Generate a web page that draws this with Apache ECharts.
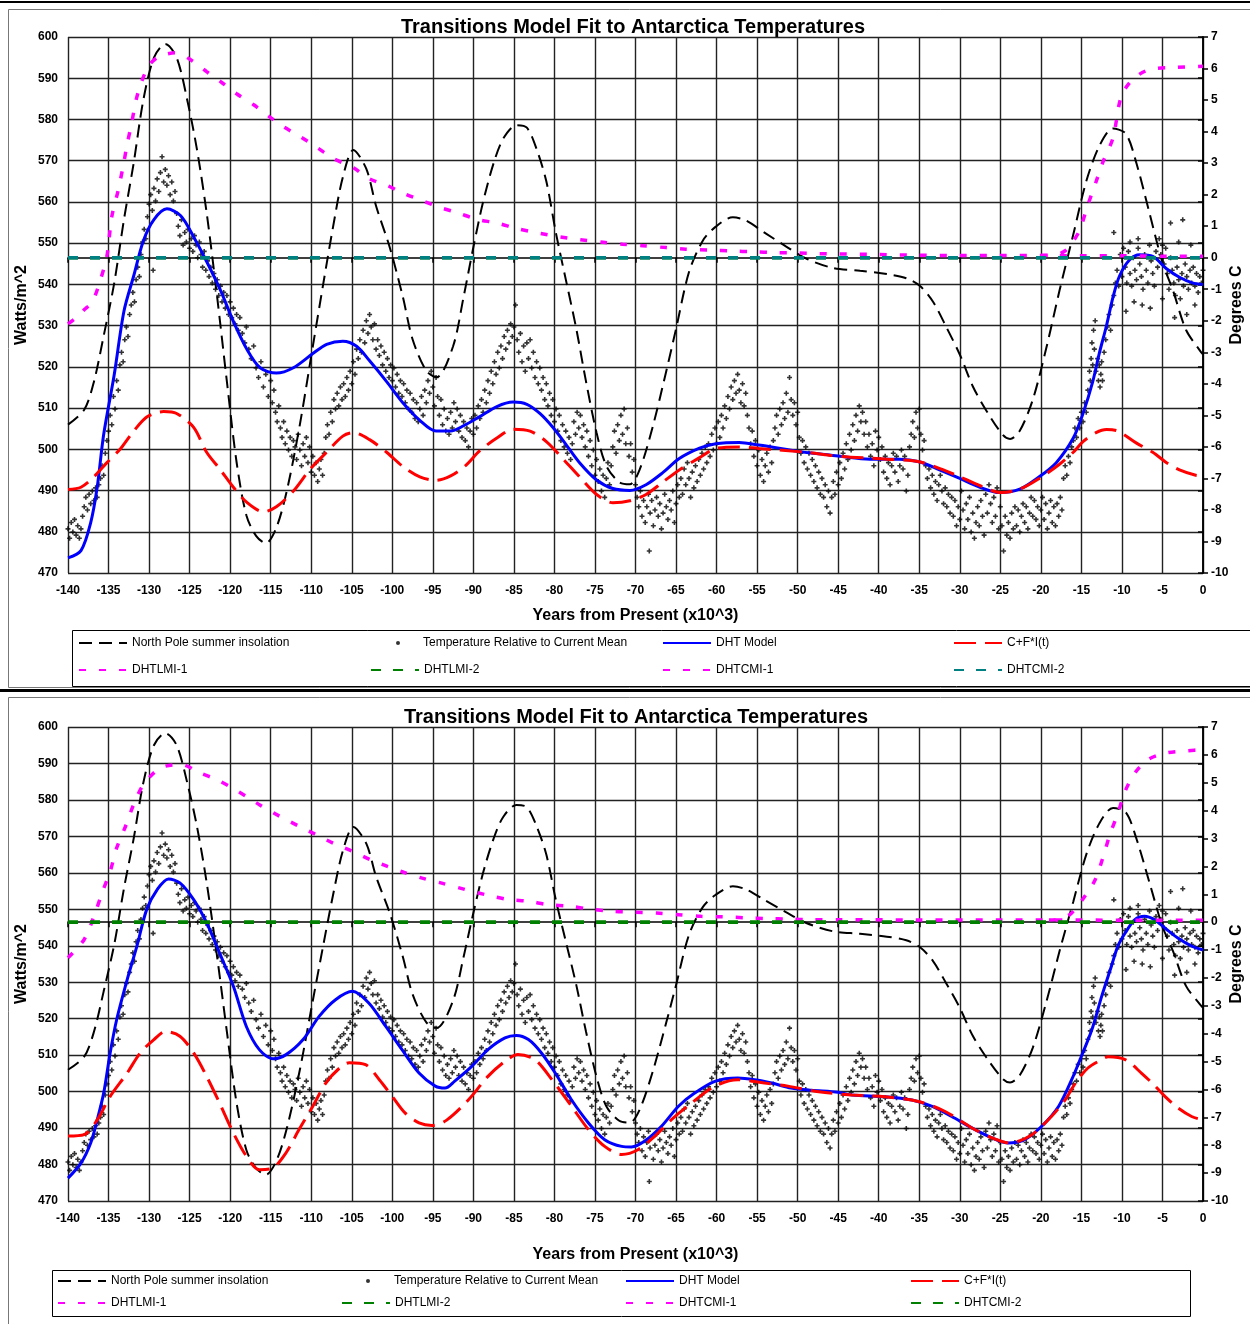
<!DOCTYPE html>
<html><head><meta charset="utf-8">
<script src="https://cdn.jsdelivr.net/npm/echarts@6/dist/echarts.min.js"></script>
<style>html,body{margin:0;padding:0;background:#fff}#c{width:1250px;height:1324px}</style>
</head><body><div id="c"></div>
<script>
// ---------- DATA ----------
const seriesNames = ['North Pole summer insolation','Temperature Relative to Current Mean','DHT Model','C+F*I(t)','DHTLMI-1','DHTLMI-2','DHTCMI-1','DHTCMI-2'];
const chartTitle = 'Transitions Model Fit to Antarctica Temperatures';
const xName = 'Years from Present (x10^3)';
const yLeftName = 'Watts/m^2';
const yRightName = 'Degrees C';

// North Pole summer insolation (W/m^2) [kyr, value]
const insolation = [[-140,506],[-138,509.6],[-136.8,516.4],[-135.6,527.5],[-134.3,540.3],[-133.1,555.7],[-131.9,569.4],[-130.7,584.8],[-129.4,595],[-128,598.3],[-126.6,595],[-125.3,584.8],[-124.1,572.8],[-122.9,557.4],[-121.6,536.9],[-120.4,516.4],[-119.2,496.8],[-118,484],[-116.8,479],[-115.6,477.2],[-114.3,481],[-113,490],[-111.4,506],[-109.8,525],[-108.5,540.3],[-107.3,554],[-106.1,566],[-104.8,572.6],[-103.2,568],[-102,559],[-100.3,548.9],[-98.7,537],[-97.5,526.7],[-95.8,519],[-94.5,517.5],[-92.5,525],[-91.2,537],[-90,549],[-88.8,560],[-87.5,569.4],[-86.3,575.4],[-84.7,578.6],[-83.4,578],[-82.2,572.8],[-81,565],[-79.8,552.3],[-78.5,540.3],[-77.3,529.2],[-76.1,516.4],[-74.8,504],[-73.6,496],[-72,492],[-70.7,491.5],[-69.5,495],[-67.9,505.3],[-66.2,519],[-65,529.2],[-63.4,543],[-61.7,550.6],[-60.1,554],[-58,556.3],[-56.4,555.5],[-53.9,552.3],[-51.5,549.3],[-49,546.3],[-45.7,544],[-42.3,543.3],[-39,542.5],[-36.6,541.5],[-34.9,539.6],[-33.3,535.8],[-31.7,529.8],[-30,523],[-28.4,515.3],[-26.7,509.3],[-24.7,503.5],[-23.8,502.5],[-22.6,504.5],[-21,512],[-19.3,524.8],[-17.7,538.5],[-16,552.1],[-14.4,565],[-12.8,573.5],[-11.1,577.8],[-9.5,576.5],[-8.2,569.3],[-6.6,557.3],[-5,545.3],[-3.7,538.5],[-2.1,529],[-0.4,524],[0,523]];

// Temperature relative to current mean (deg C) [kyr, value]
const tempPoints = [
[-140,-8.6],[-139.8,-8.9],[-139.6,-8.4],[-139.4,-8.7],[-139.2,-8.3],[-139,-8.8],[-138.8,-8.5],[-138.6,-8.9],[-138.4,-8.6],[-138.2,-8.2],
[-138,-7.9],[-137.8,-7.6],[-137.6,-8.0],[-137.4,-7.5],[-137.2,-7.8],[-137,-7.4],[-136.8,-7.7],[-136.6,-7.3],[-136.4,-7.6],[-136.2,-7.2],
[-136,-7.0],[-135.8,-6.6],[-135.6,-6.9],[-135.4,-6.2],[-135.2,-5.8],[-135,-5.5],[-134.8,-5.0],[-134.6,-5.3],[-134.4,-4.4],[-134.2,-4.8],[-134,-3.9],[-133.8,-4.2],[-133.6,-3.4],[-133.4,-3.0],[-133.2,-3.3],[-133,-2.6],[-132.8,-2.2],[-132.6,-2.5],[-132.4,-1.8],[-132.2,-1.5],[-132,-1.1],[-131.8,-1.4],[-131.6,-0.7],[-131.4,-0.3],[-131.2,-0.6],[-131,0.1],[-130.8,0.5],[-130.6,0.9],[-130.4,0.6],[-130.2,1.3],
[-130,1.7],[-129.8,2.0],[-129.6,1.5],[-129.4,2.2],[-129.2,1.8],[-129,2.5],[-128.8,2.1],[-128.6,2.7],[-128.4,3.2],[-128.2,2.4],[-128,2.8],[-127.8,2.3],[-127.6,2.6],[-127.4,2.0],[-127.2,2.4],[-127,1.8],[-126.8,2.1],[-126.6,1.4],[-129.5,-0.4],
[-126.4,1.0],[-126.2,0.7],[-126,1.2],[-125.8,0.4],[-125.6,0.8],[-125.4,0.5],[-125.2,0.9],[-125,0.3],[-124.8,0.6],[-124.6,0.2],[-124.4,0.7],[-124.2,0.4],[-124,0.0],[-123.8,0.5],[-123.6,0.1],[-123.4,-0.3],[-123.2,0.2],[-123,-0.4],
[-122.8,-0.1],[-122.6,-0.6],[-122.4,-0.3],[-122.2,-0.8],[-122,-0.5],[-121.8,-1.0],[-121.6,-0.7],[-121.4,-1.2],[-121.2,-0.9],[-121,-1.4],[-120.8,-1.1],[-120.6,-1.6],[-120.4,-1.2],[-120.2,-1.8],[-120,-1.4],[-119.8,-1.9],[-119.6,-1.6],[-119.4,-2.1],[-119.2,-1.8],[-119,-2.3],[-118.8,-1.9],
[-118.5,-2.4],[-118.2,-2.7],[-118,-2.2],[-117.7,-2.9],[-117.4,-3.2],[-117.1,-2.8],[-116.8,-3.5],[-116.5,-3.8],[-116.2,-3.3],[-115.9,-4.1],[-115.6,-3.7],[-115.3,-4.4],[-115,-3.9],
[-114.8,-4.6],[-114.6,-4.2],[-114.4,-4.9],[-114.2,-5.2],[-114,-4.7],[-113.8,-5.4],[-113.6,-5.7],[-113.4,-5.2],[-113.2,-5.9],[-113,-5.5],[-112.8,-6.1],[-112.6,-5.7],[-112.4,-6.3],[-112.2,-5.8],[-112,-6.0],
[-111.8,-6.4],[-111.6,-5.6],[-111.4,-6.1],[-111.2,-6.6],[-111,-5.9],[-110.8,-6.3],[-110.6,-5.7],[-110.4,-6.5],[-110.2,-6.0],[-110,-6.8],[-109.8,-6.3],[-109.6,-6.9],[-109.4,-6.5],[-109.2,-7.1],[-109,-6.7],[-108.8,-6.4],[-108.6,-6.9],[-108.4,-6.2],
[-108.2,-5.7],[-108,-5.3],[-107.8,-5.6],[-107.6,-4.9],[-107.4,-5.2],[-107.2,-4.5],[-107,-4.8],[-106.8,-4.3],[-106.6,-4.7],[-106.4,-4.1],[-106.2,-4.5],[-106,-4.0],[-105.8,-4.4],[-105.6,-3.8],[-105.4,-4.2],[-105.2,-3.6],[-105,-4.0],
[-104.8,-3.3],[-104.6,-3.7],[-104.4,-2.9],[-104.2,-3.2],[-104,-2.6],[-103.8,-3.0],[-103.6,-2.3],[-103.4,-2.7],[-103.2,-2.0],[-103,-2.4],[-102.8,-1.8],[-102.6,-2.2],[-102.4,-2.6],[-102.2,-2.1],[-102,-2.9],
[-101.8,-2.6],[-101.6,-3.1],[-101.4,-2.8],[-101.2,-3.4],[-101,-3.0],[-100.8,-3.6],[-100.6,-3.2],[-100.4,-3.8],[-100.2,-3.4],[-100,-3.9],[-99.8,-3.5],[-99.6,-4.1],[-99.4,-3.7],[-99.2,-4.3],[-99,-3.9],[-98.8,-4.4],[-98.6,-4.0],[-98.4,-4.6],[-98.2,-4.2],[-98,-4.8],[-97.8,-4.3],[-97.6,-4.9],[-97.4,-4.5],[-97.2,-5.1],[-97,-4.6],
[-96.8,-5.2],[-96.6,-4.8],[-96.4,-4.4],[-96.2,-5.0],[-96,-4.2],[-95.8,-4.6],[-95.6,-3.9],[-95.4,-4.3],[-95.2,-3.6],[-95,-4.1],[-94.8,-4.7],[-94.6,-3.8],[-94.4,-4.4],[-94.2,-5.0],[-94,-4.5],[-93.8,-5.3],[-93.6,-4.8],[-93.4,-5.5],[-93.2,-5.1],[-93,-5.6],
[-92.8,-4.9],[-92.6,-5.4],[-92.4,-4.6],[-92.2,-5.2],[-92,-4.8],[-91.8,-5.5],[-91.6,-5.0],[-91.4,-5.7],[-91.2,-5.2],[-91,-5.8],[-90.8,-5.4],[-90.6,-6.0],[-90.4,-5.5],[-90.2,-5.1],[-90,-5.6],[-89.8,-5.0],[-89.6,-5.4],[-89.4,-4.7],[-89.2,-5.1],[-89,-4.5],
[-88.8,-4.9],[-88.6,-4.2],[-88.4,-4.6],[-88.2,-3.9],[-88,-4.3],[-87.8,-3.6],[-87.6,-4.0],[-87.4,-3.3],[-87.2,-3.7],[-87,-3.0],[-86.8,-3.5],[-86.6,-2.8],[-86.4,-3.2],[-86.2,-2.5],[-86,-2.9],[-85.8,-2.3],[-85.6,-2.7],[-85.4,-2.1],[-85.2,-2.5],[-85,-2.2],[-84.8,-1.5],
[-84.6,-2.6],[-84.4,-3.0],[-84.2,-2.4],[-84,-3.3],[-83.8,-2.8],[-83.6,-3.6],[-83.4,-2.7],[-83.2,-3.2],[-83,-2.6],[-82.8,-3.5],[-82.6,-3.0],[-82.4,-3.8],[-82.2,-3.3],[-82,-4.0],[-81.8,-3.5],[-81.6,-4.2],[-81.4,-3.8],[-81.2,-4.5],[-81,-4.0],[-80.8,-4.7],[-80.6,-4.3],[-80.4,-5.0],[-80.2,-4.5],[-80,-5.2],
[-79.8,-4.8],[-79.6,-5.5],[-79.4,-5.0],[-79.2,-5.8],[-79,-5.3],[-78.8,-6.0],[-78.6,-5.5],[-78.4,-6.2],[-78.2,-5.7],[-78,-6.4],[-77.8,-5.9],[-77.6,-5.2],[-77.4,-5.6],[-77.2,-4.9],[-77,-5.4],
[-76.8,-5.0],[-76.6,-5.7],[-76.4,-5.3],[-76.2,-6.0],[-76,-5.5],[-75.8,-6.3],[-75.6,-5.8],[-75.4,-6.6],[-75.2,-6.1],[-75,-6.9],
[-74.8,-6.4],[-74.6,-7.1],[-74.4,-6.7],[-74.2,-7.4],[-74,-6.9],[-73.8,-7.6],[-73.6,-7.0],[-73.4,-6.5],[-73.2,-7.2],[-73,-6.6],
[-72.8,-6.0],[-72.6,-5.5],[-72.4,-6.2],[-72.2,-5.3],[-72,-5.8],[-71.8,-5.0],[-71.6,-5.6],[-71.4,-4.8],[-71.2,-5.9],[-71,-5.4],[-70.8,-6.3],[-70.6,-5.9],[-70.4,-6.8],[-70.2,-6.4],
[-70,-7.2],[-69.8,-7.6],[-69.6,-7.9],[-69.4,-7.4],[-69.2,-8.2],[-69,-7.7],[-68.8,-8.4],[-68.6,-7.9],[-68.4,-7.5],[-68.2,-8.1],[-68,-7.7],[-67.8,-8.5],[-67.6,-8.0],[-67.4,-7.6],[-67.2,-8.2],[-67,-7.8],[-66.8,-8.6],[-66.6,-8.1],[-66.4,-7.5],[-66.2,-7.9],[-66,-8.3],[-65.8,-7.7],[-65.6,-8.0],[-65.4,-7.4],[-65.2,-8.4],[-65,-7.8],[-64.8,-7.2],[-64.6,-7.6],[-68.3,-9.3],
[-64.4,-7.0],[-64.2,-7.5],[-64,-6.7],[-63.8,-7.2],[-63.6,-6.5],[-63.4,-7.0],[-63.2,-7.6],[-63,-6.8],[-62.8,-7.3],[-62.6,-6.6],[-62.4,-7.1],[-62.2,-6.4],[-62,-6.9],[-61.8,-6.2],[-61.6,-6.7],[-61.4,-6.0],
[-61.2,-6.5],[-61,-5.9],[-60.8,-6.3],[-60.6,-5.6],[-60.4,-6.1],[-60.2,-5.4],[-60,-5.9],[-59.8,-5.2],[-59.6,-5.7],[-59.4,-5.0],
[-59.2,-5.4],[-59,-4.7],[-58.8,-5.1],[-58.6,-4.4],[-58.4,-4.8],[-58.2,-4.1],[-58,-4.5],[-57.8,-3.9],[-57.6,-4.3],[-57.4,-3.7],[-57.2,-4.2],[-57,-4.6],[-56.8,-4.0],[-56.6,-4.7],[-56.4,-4.3],[-56.2,-5.0],
[-56,-5.4],[-55.8,-5.9],[-55.6,-5.5],[-55.4,-6.3],[-55.2,-5.8],[-55,-6.6],[-54.8,-6.1],[-54.6,-6.9],[-54.4,-6.4],[-54.2,-7.1],[-54,-6.6],[-53.8,-6.2],[-53.6,-6.8],[-53.4,-6.0],[-53.2,-6.5],[-53,-5.8],
[-52.8,-5.4],[-52.6,-5.0],[-52.4,-5.6],[-52.2,-4.8],[-52,-5.3],[-51.8,-4.6],[-51.6,-5.1],[-51.4,-4.3],[-51.2,-4.9],[-51,-3.8],[-50.8,-4.5],[-50.6,-5.0],[-50.4,-4.6],[-50.2,-5.3],[-50,-4.9],
[-49.8,-5.7],[-49.6,-6.2],[-49.4,-5.8],[-49.2,-6.5],[-49,-6.0],[-48.8,-6.7],[-48.6,-6.2],[-48.4,-6.9],[-48.2,-6.4],[-48,-7.1],[-47.8,-6.6],[-47.6,-7.3],[-47.4,-6.8],[-47.2,-7.5],[-47,-7.0],
[-46.8,-7.6],[-46.6,-7.2],[-46.4,-7.9],[-46.2,-7.4],[-46,-8.1],[-45.8,-7.6],[-45.6,-7.1],[-45.4,-7.5],[-45.2,-6.8],[-45,-7.2],
[-44.8,-6.5],[-44.6,-7.0],[-44.4,-6.2],[-44.2,-6.7],[-44,-5.9],[-43.8,-6.4],[-43.6,-5.6],[-43.4,-6.1],[-43.2,-5.3],[-43,-5.8],[-42.8,-5.0],[-42.6,-5.5],[-42.4,-4.7],[-42.2,-5.2],[-42,-4.9],[-41.8,-5.6],[-41.6,-5.2],[-41.4,-6.0],[-41.2,-5.6],[-41,-6.3],
[-40.8,-5.9],[-40.6,-6.6],[-40.4,-5.5],[-40.2,-6.1],[-40,-5.7],[-39.8,-6.4],[-39.6,-6.0],[-39.4,-6.8],[-39.2,-6.3],[-39,-7.0],[-38.8,-6.5],[-38.6,-7.2],[-38.4,-6.6],[-38.2,-6.2],[-38,-6.8],[-37.8,-6.3],[-37.6,-7.1],[-37.4,-6.6],[-37.2,-6.1],[-37,-6.7],[-36.8,-6.3],[-36.6,-7.4],[-36.4,-6.9],
[-36.2,-6.0],[-36,-5.6],[-35.8,-5.2],[-35.6,-5.7],[-35.4,-4.9],[-35.2,-5.4],[-35,-4.8],[-34.8,-5.6],[-34.6,-6.1],[-34.4,-5.8],
[-34.2,-6.6],[-34,-7.0],[-33.8,-6.7],[-33.6,-7.3],[-33.4,-6.9],[-33.2,-7.5],[-33,-7.1],[-32.8,-7.7],[-32.6,-7.2],[-32.4,-6.9],[-32.2,-7.4],[-32,-7.8],[-31.8,-7.3],[-31.6,-7.9],[-31.4,-7.5],[-31.2,-8.1],[-31,-7.6],
[-30.8,-8.2],[-30.6,-7.7],[-30.4,-8.5],[-30.2,-7.9],[-30,-8.3],[-29.8,-7.4],[-29.6,-8.0],[-29.4,-8.6],[-29.2,-7.8],[-29,-8.3],[-28.8,-7.6],[-28.6,-8.7],[-28.4,-8.1],[-28.2,-8.9],[-28,-8.4],[-27.8,-7.9],[-27.6,-8.5],[-27.4,-7.7],[-27.2,-8.2],[-27,-8.8],
[-26.8,-7.5],[-26.6,-8.1],[-26.4,-7.2],[-26.2,-7.8],[-26,-8.4],[-25.8,-7.6],[-25.6,-8.2],[-25.4,-7.3],[-25.2,-8.6],[-25,-7.9],[-24.8,-8.5],[-24.6,-9.3],[-24.4,-8.2],[-24.2,-8.8],
[-24,-8.4],[-23.8,-8.9],[-23.6,-8.1],[-23.4,-8.6],[-23.2,-7.9],[-23,-8.5],[-22.8,-8.0],[-22.6,-8.7],[-22.4,-8.2],[-22.2,-7.8],[-22,-8.4],[-21.8,-7.9],[-21.6,-8.6],[-21.4,-8.1],[-21.2,-7.6],[-21,-8.2],[-20.8,-7.7],[-20.6,-8.3],[-20.4,-7.9],[-20.2,-8.5],
[-20,-8.0],[-19.8,-7.6],[-19.6,-8.3],[-19.4,-7.8],[-19.2,-8.6],[-19,-8.1],[-18.8,-7.7],[-18.6,-8.4],[-18.4,-7.9],[-18.2,-8.5],[-18,-7.8],[-17.8,-8.2],[-17.6,-7.6],[-17.4,-8.0],
[-17.2,-7.0],[-17,-6.6],[-16.8,-6.9],[-16.6,-6.3],[-16.4,-6.5],[-16.2,-6.0],
[-16,-5.8],[-15.8,-5.4],[-15.6,-5.7],[-15.4,-5.1],[-15.2,-5.4],[-15,-4.9],[-14.8,-5.2],[-14.6,-4.6],[-14.4,-4.9],
[-14.2,-4.2],[-14,-3.6],[-13.9,-3.9],[-13.8,-3.2],[-13.7,-2.7],[-13.6,-3.4],[-13.5,-2.3],[-13.4,-2.9],[-13.3,-2.0],
[-13.2,-3.6],[-13,-3.2],[-12.9,-3.9],[-12.8,-3.4],[-12.7,-4.1],[-12.6,-3.7],[-12.5,-3.3],[-12.4,-3.9],
[-12.2,-3.0],[-12,-2.6],[-11.8,-2.2],[-11.6,-1.8],[-11.4,-2.3],[-11.2,-1.5],[-11,-1.2],
[-10.8,-0.8],[-10.6,-0.4],[-10.4,-0.9],[-10.2,0.1],[-10,-0.6],[-9.8,0.3],[-9.6,-0.3],[-9.4,-0.8],[-9.2,0.2],[-9,-0.5],[-8.8,-0.9],[-8.6,0.0],[-8.4,-0.4],[-8.2,-0.7],[-8,0.3],[-7.8,-0.2],[-7.6,-0.6],[-7.4,-1.0],[-7.2,0.1],[-7,-0.4],[-6.8,-0.8],[-6.6,0.4],[-6.4,-0.1],[-6.2,-0.5],[-6,-0.9],[-5.8,0.2],[-5.6,-0.3],[-5.4,0.6],[-5.2,0.1],[-5,0.4],[-4.8,-0.2],[-4.6,0.3],[-4.4,-0.5],[-4.2,-1.0],[-4,0.0],[-3.8,-0.4],[-3.6,-0.8],[-3.4,-1.2],[-3.2,-0.3],[-3,-0.7],[-2.8,-1.3],[-2.6,-0.5],[-2.4,-0.9],[-2.2,-0.2],[-2,-0.6],[-1.8,-1.0],[-1.6,-0.4],[-1.4,-0.8],[-1.2,-0.3],[-1,-0.9],[-0.8,-0.5],[-0.6,-1.1],[-0.4,-0.6],[-0.2,-0.8],[0,-0.4],
[-9.5,-1.7],[-8.5,-1.4],[-7.5,-1.5],[-6.5,-1.6],[-4,1.1],[-2.5,1.2],[-3,0.5],[-1.5,0.4],[-11,0.8],[-9,0.5],[-8,0.6],[-5,-1.3],[-3.5,-1.9],[-2,-1.8],[-1,-1.5]
];

// ---- Top panel model curves (deg C) ----
const dhtTop = [[-140,-9.52],[-138.4,-9.29],[-137.2,-8.4],[-136.4,-7.28],[-135.6,-5.61],[-134.3,-3.71],[-133.1,-1.7],[-131.9,-0.58],[-130.7,0.54],[-129.4,1.21],[-127.8,1.55],[-126.1,1.33],[-124.5,0.66],[-122.9,-0.12],[-121.2,-1.03],[-119.6,-2.02],[-117.9,-2.92],[-116.3,-3.49],[-114.3,-3.66],[-112.2,-3.49],[-109.8,-3.04],[-108.1,-2.75],[-106.1,-2.65],[-104.4,-2.81],[-102.8,-3.27],[-100.7,-3.93],[-98.7,-4.6],[-96.6,-5.16],[-94.6,-5.5],[-92.8,-5.5],[-91.2,-5.33],[-89.2,-5.04],[-87.1,-4.72],[-85.1,-4.58],[-83.4,-4.65],[-81.8,-4.94],[-80.2,-5.38],[-78.5,-5.95],[-76.9,-6.5],[-74.8,-7.05],[-72.8,-7.32],[-70.7,-7.38],[-68.7,-7.2],[-66.6,-6.81],[-64.6,-6.37],[-62.1,-6.04],[-60.1,-5.9],[-57.2,-5.86],[-54.8,-5.94],[-52.3,-6.04],[-49.8,-6.15],[-47,-6.23],[-44.8,-6.3],[-41.1,-6.39],[-37.4,-6.39],[-34.9,-6.48],[-32.5,-6.73],[-30,-7.0],[-27.5,-7.28],[-25.1,-7.45],[-22.6,-7.34],[-20.2,-6.95],[-18.1,-6.5],[-16,-5.72],[-14.8,-4.94],[-13.6,-3.93],[-12.8,-3.04],[-11.9,-2.15],[-11.1,-1.25],[-10.3,-0.58],[-9.1,-0.08],[-7.8,0.09],[-6.2,0.04],[-4.5,-0.35],[-2.9,-0.62],[-1.3,-0.8],[0,-0.85]];
const cfiTop = [[-140,-7.35],[-138.4,-7.28],[-136.8,-6.95],[-135.2,-6.5],[-133.5,-6.05],[-131.9,-5.5],[-130.2,-5.04],[-128.2,-4.88],[-126.6,-4.94],[-124.5,-5.38],[-122.9,-6.17],[-121.2,-6.73],[-119.6,-7.28],[-117.9,-7.77],[-115.9,-8.06],[-114.3,-7.9],[-112.2,-7.4],[-110.2,-6.73],[-108.1,-6.17],[-106.1,-5.66],[-104.8,-5.55],[-102.8,-5.77],[-100.7,-6.17],[-98.7,-6.62],[-96.6,-6.95],[-94.6,-7.06],[-92.8,-6.92],[-91,-6.6],[-89.2,-6.12],[-87.1,-5.72],[-85.1,-5.44],[-83,-5.5],[-81,-5.83],[-78.9,-6.39],[-76.9,-6.95],[-74.8,-7.51],[-72.8,-7.77],[-70.7,-7.71],[-68.7,-7.51],[-66.6,-7.11],[-64.6,-6.73],[-62.1,-6.34],[-60.1,-6.05],[-57.2,-6.0],[-54.8,-6.05],[-49,-6.17],[-44.8,-6.3],[-39,-6.39],[-34.9,-6.48],[-30.8,-6.86],[-27.5,-7.23],[-24.9,-7.45],[-22.6,-7.34],[-20.2,-7.0],[-17.7,-6.55],[-16,-6.17],[-14.8,-5.83],[-13.2,-5.55],[-11.9,-5.45],[-10.5,-5.5],[-8.2,-5.88],[-6.2,-6.17],[-4.5,-6.5],[-2.9,-6.73],[-0.9,-6.9],[0,-6.92]];
const lmi1Top = [[-140,-2.1],[-139,-1.9],[-138,-1.65],[-137,-1.4],[-136,-0.7],[-135.2,0.05],[-134.6,1.3],[-133.8,2.15],[-133.2,2.9],[-132.7,3.6],[-132.2,4.2],[-131.6,5.0],[-130.9,5.6],[-130,6.1],[-129,6.35],[-128,6.45],[-126.8,6.5],[-124.7,6.25],[-122.9,5.9],[-121,5.55],[-119.2,5.2],[-117.1,4.85],[-115.3,4.5],[-113.4,4.15],[-111.4,3.85],[-109.3,3.5],[-107.3,3.15],[-104.8,2.85],[-102.8,2.5],[-100.7,2.3],[-98.7,2.05],[-96.2,1.8],[-94.2,1.6],[-92,1.43],[-89.6,1.22],[-87.1,1.1],[-84.7,0.93],[-81.8,0.77],[-79.3,0.66],[-76.9,0.57],[-74,0.49],[-71.6,0.43],[-69.1,0.38],[-66.2,0.32],[-63.8,0.27],[-60.9,0.24],[-58,0.21],[-55.6,0.19],[-52.7,0.16],[-50,0.15],[-47.5,0.13],[-45,0.12],[-40,0.1],[-35,0.08],[-30,0.07],[-25,0.07],[-20,0.07],[-15,0.06],[-10,0.06],[-5,0.05],[0,0.05]];
const cmi1Top = [[-20,0.07],[-18,0.1],[-17,0.22],[-16.2,0.45],[-15.2,0.88],[-14.3,1.6],[-13.2,2.4],[-12.4,3.0],[-11.1,3.8],[-10.1,5.1],[-8.7,5.65],[-6.6,5.97],[-3.7,6.03],[0,6.07]];

// ---- Bottom panel model curves (deg C) ----
const dhtBot = [[-140,-9.18],[-138.4,-8.64],[-137.2,-7.92],[-136.4,-7.09],[-135.6,-6.13],[-134.8,-4.69],[-134,-3.5],[-132.7,-2.06],[-131.5,-0.86],[-130.3,0.45],[-129,1.17],[-127.6,1.55],[-126.2,1.41],[-124.5,0.81],[-122.9,-0.02],[-121.3,-1.11],[-119.6,-2.3],[-118,-3.74],[-116.4,-4.57],[-114.7,-4.9],[-113.1,-4.75],[-111,-4.21],[-109,-3.37],[-107,-2.78],[-104.9,-2.48],[-102.9,-2.9],[-100.8,-3.74],[-98.8,-4.57],[-96.7,-5.41],[-94.7,-5.88],[-93.5,-5.95],[-92.3,-5.7],[-90.2,-5.17],[-88.2,-4.57],[-86.1,-4.15],[-84.7,-4.06],[-83.2,-4.21],[-81.6,-4.69],[-79.9,-5.41],[-77.9,-6.37],[-75.8,-7.2],[-73.8,-7.8],[-71.7,-8.04],[-70.5,-8.06],[-68.9,-7.86],[-66.8,-7.32],[-64.7,-6.6],[-62.7,-6.13],[-60.2,-5.71],[-57.4,-5.59],[-55.3,-5.65],[-53.2,-5.77],[-50.8,-5.95],[-48.3,-6.03],[-45,-6.1],[-43.3,-6.2],[-39.2,-6.26],[-35.9,-6.38],[-33.4,-6.61],[-31,-6.97],[-28.5,-7.38],[-26,-7.74],[-24,-7.92],[-22,-7.8],[-19.9,-7.32],[-17.8,-6.6],[-16.2,-5.65],[-15,-4.81],[-13.7,-3.85],[-12.5,-2.66],[-11.3,-1.58],[-10.5,-0.86],[-9.6,-0.39],[-8.4,0.09],[-7.2,0.21],[-6,0.09],[-4.7,-0.21],[-3.1,-0.57],[-1.4,-0.86],[0,-1.0]];
const cfiBot = [[-140,-7.67],[-138,-7.62],[-136.4,-7.09],[-134.8,-6.25],[-132.7,-5.41],[-131.1,-4.69],[-129.4,-4.21],[-128,-3.92],[-126.2,-4.09],[-124.5,-4.69],[-122.9,-5.53],[-121.3,-6.49],[-119.6,-7.56],[-118,-8.39],[-116.4,-8.88],[-114.7,-8.81],[-113.1,-8.27],[-111.5,-7.44],[-109.8,-6.6],[-108.2,-5.77],[-106.5,-5.23],[-105.3,-5.04],[-103.3,-5.11],[-101.6,-5.65],[-100,-6.25],[-98.4,-6.85],[-96.7,-7.2],[-95.1,-7.29],[-93.3,-7.1],[-90.6,-6.37],[-88.2,-5.53],[-86.1,-4.99],[-84.5,-4.75],[-82.4,-4.93],[-80.3,-5.65],[-77.9,-6.6],[-75.8,-7.44],[-73.8,-8.04],[-71.7,-8.33],[-69.7,-8.16],[-67.6,-7.67],[-65.6,-7.09],[-63.1,-6.49],[-60.2,-5.88],[-57.4,-5.65],[-54.1,-5.77],[-51.2,-5.88],[-47.4,-6.08],[-43.3,-6.2],[-39.2,-6.26],[-35.1,-6.43],[-31.8,-6.79],[-28.5,-7.38],[-26,-7.74],[-23.8,-7.92],[-21.1,-7.62],[-18.7,-6.97],[-17,-6.37],[-15.6,-5.71],[-14.2,-5.23],[-12.9,-4.99],[-11.7,-4.83],[-9.6,-4.93],[-7.6,-5.41],[-5.9,-5.88],[-4.7,-6.25],[-3.1,-6.66],[-1.4,-6.97],[0,-7.09]];
const lmi1Bot = [[-140,-1.28],[-138,-0.62],[-136.8,0.21],[-135.8,1.05],[-134.8,1.82],[-134,2.66],[-132.9,3.44],[-131.9,4.22],[-130.7,4.93],[-128.6,5.53],[-126,5.65],[-123.7,5.35],[-121.7,5.12],[-119.8,4.82],[-118,4.51],[-116.2,4.18],[-113.9,3.8],[-111.5,3.44],[-109.4,3.14],[-107.2,2.82],[-104.9,2.54],[-102.7,2.24],[-100.6,2.0],[-98.6,1.79],[-96.3,1.58],[-93.9,1.4],[-91,1.17],[-88.4,0.98],[-85.7,0.81],[-83.2,0.75],[-80.8,0.63],[-78.1,0.57],[-75.6,0.47],[-73,0.39],[-70.1,0.36],[-67.4,0.33],[-64.7,0.27],[-61.9,0.21],[-59.2,0.19],[-56.5,0.16],[-53.7,0.13],[-51.2,0.11],[-48.3,0.09],[-45,0.09],[-35,0.08],[-25,0.08],[-18,0.08],[-10,0.07],[0,0.07]];
const cmi1Bot = [[-19,0.08],[-17.5,0.12],[-16.2,0.33],[-14.6,0.92],[-13.3,1.52],[-12.3,2.36],[-11.5,3.13],[-10.5,3.91],[-9.6,4.7],[-8.4,5.35],[-6.8,5.83],[-4.5,6.07],[-1.9,6.15],[0,6.19]];
const lmi2Line = [[-140,0],[0,0]];
const cmi2Line = [[-140,0],[0,0]];

// ---------- CHART ----------
const FONT = '"Liberation Sans", Arial, sans-serif';
const plus = 'path://M1.7,0H3.3V1.7H5V3.3H3.3V5H1.7V3.3H0V1.7H1.7Z';
const grids = [
  {left:68, top:37, width:1135, height:536, outerBoundsMode:'none', containLabel:false},
  {left:68, top:727, width:1135, height:474, outerBoundsMode:'none', containLabel:false}
];
const axLine = {show:true, lineStyle:{color:'#000', width:1.5}};
const axTick = {show:true, length:5, lineStyle:{color:'#000', width:1.5}};
const lblStyle = {color:'#000', fontFamily:FONT, fontWeight:'bold', fontSize:12};
const nameStyle = {color:'#000', fontFamily:FONT, fontWeight:'bold', fontSize:16};

const xAxes = [0,1].map(i => ({
  type:'value', gridIndex:i, min:-140, max:0, interval:5,
  axisLine:axLine, axisTick:axTick, axisLabel:Object.assign({margin:12}, lblStyle),
  splitLine:{show:true, lineStyle:{color:'#222', width:1.4}},
  name:xName, nameLocation:'middle', nameGap: i===0 ? 35 : 46, nameTextStyle:nameStyle
}));
const yAxes = [];
[0,1].forEach(i => {
  yAxes.push({type:'value', gridIndex:i, position:'left', min:470, max:600, interval:10,
    axisLine:axLine, axisTick:axTick, axisLabel:Object.assign({margin:10}, lblStyle),
    splitLine:{show:true, lineStyle:{color:'#222', width:1.4}},
    name:yLeftName, nameLocation:'middle', nameGap:38, nameRotate:90, nameMoveOverlap:false, nameTextStyle:nameStyle});
  yAxes.push({type:'value', gridIndex:i, position:'right', min:-10, max:7, interval:1,
    axisLine:axLine, axisTick:axTick, axisLabel:Object.assign({margin:8}, lblStyle),
    splitLine:{show:false},
    name:yRightName, nameLocation:'middle', nameGap:26, nameRotate:90, nameMoveOverlap:false, nameTextStyle:nameStyle});
});

function lineS(name, xi, yi, data, color, width, type, smooth) {
  return {name, type:'line', xAxisIndex:xi, yAxisIndex:yi, data, symbol:'none', showSymbol:false,
    smooth: smooth === undefined ? 0.3 : smooth, animation:false,
    lineStyle:{color, width, type}, itemStyle:{color}};
}
function panel(i, sfx, d) {
  const yl = 2*i, yr = 2*i+1;
  return [
    lineS(seriesNames[0]+sfx, i, yl, insolation, '#000', 2, [13,7]),
    {name:seriesNames[1]+sfx, type:'scatter', xAxisIndex:i, yAxisIndex:yr, data:tempPoints,
      symbol:plus, symbolSize:5, itemStyle:{color:'#000'}, animation:false},
    lineS(seriesNames[2]+sfx, i, yr, d.dht, '#0000ff', 3, 'solid'),
    lineS(seriesNames[3]+sfx, i, yr, d.cfi, '#ff0000', 3, [22,9]),
    lineS(seriesNames[4]+sfx, i, yr, d.lmi1, '#ff00ff', 3.5, [7,13]),
    lineS(seriesNames[5]+sfx, i, yr, lmi2Line, '#008000', 3.5, [10,12], false),
    lineS(seriesNames[6]+sfx, i, yr, d.cmi1, '#ff00ff', 3.5, [7,13]),
    lineS(seriesNames[7]+sfx, i, yr, cmi2Line, d.cmi2Color, 3.5, [10,12], false)
  ];
}
const series = panel(0, '', {dht:dhtTop, cfi:cfiTop, lmi1:lmi1Top, cmi1:cmi1Top, cmi2Color:'#008080'})
  .concat(panel(1, '\u200b', {dht:dhtBot, cfi:cfiBot, lmi1:lmi1Bot, cmi1:cmi1Bot, cmi2Color:'#008000'}));

// legends: one component per item, placed like the original
function legendItems(sfx, lefts, dotPad, rows) {
  return seriesNames.map((nm, k) => {
    const r = Math.floor(k/4), c = k%4;
    const isDot = k === 1;
    const item = {name:nm+sfx};
    if (isDot) item.icon = 'circle';
    return {
      data:[item], selectedMode:false, padding:0,
      left: lefts[r][c], top: rows[r]-7,
      itemWidth: isDot ? 4 : 48, itemHeight: isDot ? 4 : 12,
      itemStyle: isDot ? {} : {opacity:0},
      textStyle:{color:'#000', fontFamily:FONT, fontSize:12, padding: isDot ? [0,0,0,dotPad] : 0}
    };
  });
}
const legends = legendItems('', [[78,396,662,953],[78,370,662,953]], 18, [644, 671])
  .concat(legendItems('\u200b', [[57,366,625,910],[57,341,625,910]], 19, [1282, 1304]));

const chart = echarts.init(document.getElementById('c'), null, {renderer:'canvas'});
chart.setOption({
  backgroundColor:'#fff',
  animation:false,
  title:[
    {text:chartTitle, left:628, top:12, textAlign:'center', textStyle:{fontFamily:FONT, fontWeight:'bold', fontSize:20, color:'#000'}},
    {text:chartTitle, left:631, top:702, textAlign:'center', textStyle:{fontFamily:FONT, fontWeight:'bold', fontSize:20, color:'#000'}}
  ],
  grid:grids,
  xAxis:xAxes,
  yAxis:yAxes,
  legend:legends,
  graphic:[
    {type:'rect', shape:{x:0,y:1,width:1250,height:2}, style:{fill:'#000'}, silent:true},
    {type:'rect', shape:{x:8.5,y:9.5,width:1260,height:678}, style:{fill:null, stroke:'#777', lineWidth:1}, silent:true},
    {type:'rect', shape:{x:0,y:689,width:1250,height:3}, style:{fill:'#000'}, silent:true},
    {type:'rect', shape:{x:8.5,y:697.5,width:1260,height:640}, style:{fill:null, stroke:'#777', lineWidth:1}, silent:true},
    {type:'rect', shape:{x:72.5,y:630.5,width:1200,height:56}, style:{fill:null, stroke:'#000', lineWidth:1}, silent:true},
    {type:'rect', shape:{x:52.5,y:1270.5,width:1138,height:46}, style:{fill:null, stroke:'#000', lineWidth:1}, silent:true}
  ],
  series
});
</script>
</body></html>
